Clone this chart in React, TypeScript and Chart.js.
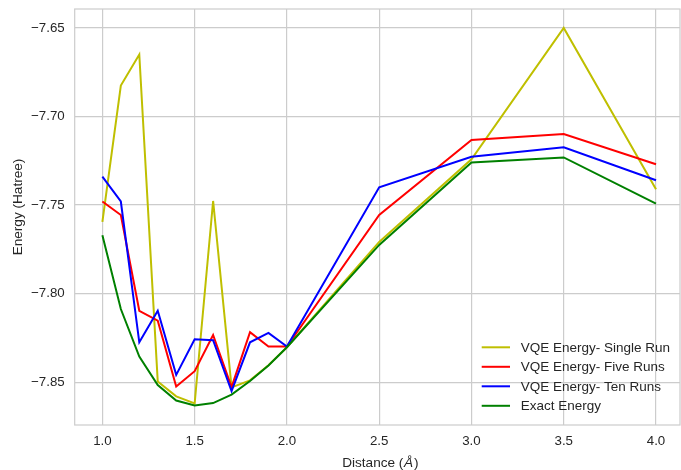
import React, { useEffect, useRef } from "react";
import { Chart, registerables } from "chart.js";

Chart.register(...registerables);

const distances = [1.0, 1.1, 1.2, 1.3, 1.4, 1.5, 1.6, 1.7, 1.8, 1.9, 2.0, 2.5, 3.0, 3.5, 4.0];
const singleRun = [-7.7595, -7.6825, -7.665, -7.8497, -7.858, -7.862, -7.7477, -7.853, -7.849, -7.8405, -7.8303, -7.7708, -7.7242, -7.650, -7.7411];
const fiveRuns = [-7.748, -7.7556, -7.8097, -7.8153, -7.8525, -7.8438, -7.8234, -7.8528, -7.8218, -7.8299, -7.8299, -7.7556, -7.7133, -7.7099, -7.727];
const tenRuns = [-7.734, -7.748, -7.8275, -7.8097, -7.8459, -7.8258, -7.8263, -7.8551, -7.8275, -7.8222, -7.8299, -7.740, -7.7227, -7.7174, -7.736];
const exactEnergy = [-7.767, -7.8087, -7.8356, -7.8516, -7.8604, -7.8632, -7.8618, -7.857, -7.8494, -7.8406, -7.8303, -7.7725, -7.726, -7.7231, -7.7492];

const seriesLabels = ["VQE Energy- Single Run", "VQE Energy- Five Runs", "VQE Energy- Ten Runs", "Exact Energy"];
const seriesColors = ["#bfbf00", "#ff0000", "#0000ff", "#008000"];

const xTicks = [1.0, 1.5, 2.0, 2.5, 3.0, 3.5, 4.0];
const yTicks = [-7.85, -7.8, -7.75, -7.7, -7.65];

const xTitleParts = [
  { text: "Distance (", italic: false },
  { text: "Å", italic: true },
  { text: ")", italic: false },
];
const yTitle = "Energy (Hatree)";

const FONT = "'Liberation Sans', Arial, sans-serif";
const TEXT = "#262626";
const GRID = "#cccccc";

const framePlugin = {
  id: "frameAndLegend",
  afterDatasetsDraw(chart: any) {
    const { ctx, chartArea } = chart;
    ctx.save();
    ctx.strokeStyle = GRID;
    ctx.lineWidth = 1.2;
    ctx.strokeRect(chartArea.left, chartArea.top, chartArea.right - chartArea.left, chartArea.bottom - chartArea.top);

    // legend inside plot, bottom-right, no frame
    const ds = chart.data.datasets;
    const lineX0 = chartArea.right - 198.3;
    const lineX1 = lineX0 + 28.3;
    const textX = lineX0 + 39;
    const firstY = chartArea.bottom - 77.7;
    const step = 19.5;
    ctx.font = `13.5px ${FONT}`;
    ctx.textBaseline = "middle";
    ctx.textAlign = "left";
    ds.forEach((d: any, i: number) => {
      const y = firstY + i * step;
      ctx.strokeStyle = d.borderColor;
      ctx.lineWidth = 2;
      ctx.beginPath();
      ctx.moveTo(lineX0, y);
      ctx.lineTo(lineX1, y);
      ctx.stroke();
      ctx.fillStyle = TEXT;
      ctx.fillText(d.label, textX, y + 0.5);
    });

    // x axis title with italic Å
    ctx.fillStyle = TEXT;
    ctx.textBaseline = "alphabetic";
    const fonts = xTitleParts.map((p) => (p.italic ? `italic 13.6px ${FONT}` : `13.6px ${FONT}`));
    let total = 0;
    const widths = xTitleParts.map((p, i) => {
      ctx.font = fonts[i];
      const w = ctx.measureText(p.text).width + (p.italic ? 1.5 : 0);
      total += w;
      return w;
    });
    let cx = (chartArea.left + chartArea.right) / 2 + 3 - total / 2;
    xTitleParts.forEach((p, i) => {
      ctx.font = fonts[i];
      ctx.fillText(p.text, cx + (p.italic ? 0.5 : 0), 467);
      cx += widths[i];
    });

    // y axis title
    ctx.save();
    ctx.translate(18.5, 207);
    ctx.rotate(-Math.PI / 2);
    ctx.font = `13.6px ${FONT}`;
    ctx.textAlign = "center";
    ctx.textBaseline = "middle";
    ctx.fillText(yTitle, 0, 0);
    ctx.restore();

    ctx.restore();
  },
};

export default function App() {
  const canvasRef = useRef<HTMLCanvasElement | null>(null);

  useEffect(() => {
    document.body.style.margin = "0";
    const canvas = canvasRef.current;
    if (!canvas) return;
    const seriesData = [singleRun, fiveRuns, tenRuns, exactEnergy];
    const chart = new Chart(canvas, {
      type: "line",
      data: {
        datasets: seriesData.map((vals, i) => ({
          label: seriesLabels[i],
          data: distances.map((x, j) => ({ x, y: vals[j] })),
          borderColor: seriesColors[i],
          backgroundColor: seriesColors[i],
          borderWidth: 2,
          pointRadius: 0,
          tension: 0,
          fill: false,
          order: 3 - i,
        })),
      },
      options: {
        responsive: false,
        animation: false,
        devicePixelRatio: 1,
        layout: { padding: { top: 9, right: 1, bottom: 0, left: 0 } },
        plugins: {
          legend: { display: false },
          tooltip: { enabled: false },
        },
        scales: {
          x: {
            type: "linear",
            min: 0.85,
            max: 4.13,
            afterFit: (s: any) => { s.height = 45; s.paddingLeft = 0; s.paddingRight = 0; },
            afterBuildTicks: (s: any) => { s.ticks = xTicks.map((v) => ({ value: v })); },
            grid: { color: GRID, lineWidth: 1.2, drawTicks: false },
            border: { display: false },
            ticks: {
              padding: 8,
              color: TEXT,
              font: { family: FONT, size: 13.3 },
              maxRotation: 0,
              callback: (v: any) => Number(v).toFixed(1),
            },
            title: { display: false },
          },
          y: {
            type: "linear",
            min: -7.8742,
            max: -7.6393,
            afterFit: (s: any) => { s.width = 74.7; s.paddingTop = 0; s.paddingBottom = 0; },
            afterBuildTicks: (s: any) => { s.ticks = yTicks.map((v) => ({ value: v })); },
            grid: { color: GRID, lineWidth: 1.2, drawTicks: false },
            border: { display: false },
            ticks: {
              padding: 10,
              color: TEXT,
              font: { family: FONT, size: 13.3 },
              callback: (v: any) => Number(v).toFixed(2).replace("-", "\u2212"),
            },
            title: { display: false },
          },
        },
      },
      plugins: [framePlugin],
    });
    return () => chart.destroy();
  }, []);

  return (
    <div style={{ width: 681, height: 470, background: "#fff" }}>
      <canvas ref={canvasRef} width={681} height={470} style={{ display: "block" }} />
    </div>
  );
}
